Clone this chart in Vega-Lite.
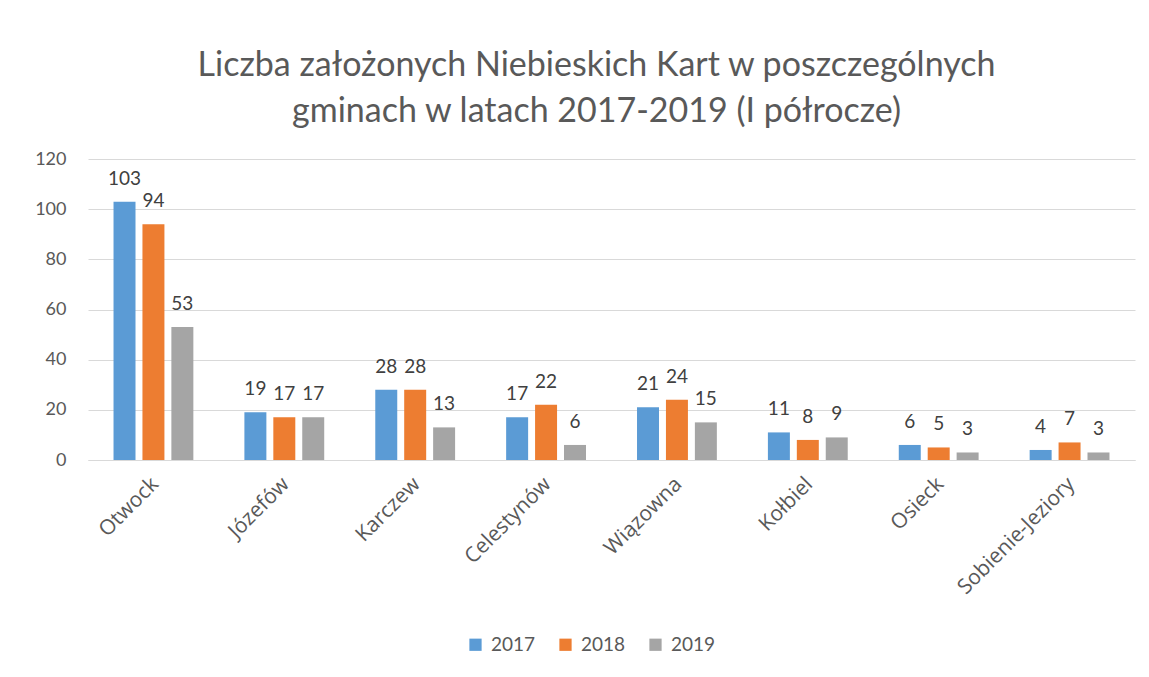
{
  "$schema": "https://vega.github.io/schema/vega-lite/v6.json",
  "autosize": {"type": "none"},
  "width": 1047,
  "height": 301,
  "padding": {"left": 88, "top": 159, "right": 14, "bottom": 217},
  "background": "white",
  "title": {
    "text": ["Liczba założonych Niebieskich Kart w poszczególnych", "gminach w latach 2017-2019 (I półrocze)"],
    "font": "Lato",
    "fontSize": 34,
    "fontWeight": "normal",
    "color": "#595959",
    "lineHeight": 46,
    "anchor": "middle",
    "dx": -15,
    "offset": 21
  },
  "data": {
    "values": [
      {"gmina": "Otwock", "rok": "2017", "liczba": 103},
      {"gmina": "Otwock", "rok": "2018", "liczba": 94},
      {"gmina": "Otwock", "rok": "2019", "liczba": 53},
      {"gmina": "Józefów", "rok": "2017", "liczba": 19},
      {"gmina": "Józefów", "rok": "2018", "liczba": 17},
      {"gmina": "Józefów", "rok": "2019", "liczba": 17},
      {"gmina": "Karczew", "rok": "2017", "liczba": 28},
      {"gmina": "Karczew", "rok": "2018", "liczba": 28},
      {"gmina": "Karczew", "rok": "2019", "liczba": 13},
      {"gmina": "Celestynów", "rok": "2017", "liczba": 17},
      {"gmina": "Celestynów", "rok": "2018", "liczba": 22},
      {"gmina": "Celestynów", "rok": "2019", "liczba": 6},
      {"gmina": "Wiązowna", "rok": "2017", "liczba": 21},
      {"gmina": "Wiązowna", "rok": "2018", "liczba": 24},
      {"gmina": "Wiązowna", "rok": "2019", "liczba": 15},
      {"gmina": "Kołbiel", "rok": "2017", "liczba": 11},
      {"gmina": "Kołbiel", "rok": "2018", "liczba": 8},
      {"gmina": "Kołbiel", "rok": "2019", "liczba": 9},
      {"gmina": "Osieck", "rok": "2017", "liczba": 6},
      {"gmina": "Osieck", "rok": "2018", "liczba": 5},
      {"gmina": "Osieck", "rok": "2019", "liczba": 3},
      {"gmina": "Sobienie-Jeziory", "rok": "2017", "liczba": 4},
      {"gmina": "Sobienie-Jeziory", "rok": "2018", "liczba": 7},
      {"gmina": "Sobienie-Jeziory", "rok": "2019", "liczba": 3}
    ]
  },
  "encoding": {
    "x": {
      "field": "gmina",
      "type": "nominal",
      "sort": null,
      "scale": {"paddingInner": 0.39, "paddingOuter": 0.195},
      "axis": {
        "title": null,
        "labelAngle": -45,
        "labelFont": "Open Sans",
        "labelFontSize": 21,
        "labelColor": "#595959",
        "ticks": false,
        "domainColor": "#D9D9D9",
        "domainWidth": 1,
        "labelPadding": 13,
        "labelOffset": -6
      }
    },
    "xOffset": {
      "field": "rok",
      "type": "nominal",
      "scale": {"paddingInner": 0.24, "paddingOuter": 0}
    },
    "y": {
      "field": "liczba",
      "type": "quantitative",
      "scale": {"domain": [0, 120], "nice": false},
      "axis": {
        "title": null,
        "values": [0, 20, 40, 60, 80, 100, 120],
        "labelFont": "Lato",
        "labelFontSize": 18,
        "labelColor": "#595959",
        "ticks": false,
        "domain": false,
        "labelPadding": 22,
        "gridColor": "#D9D9D9",
        "gridWidth": 1
      }
    }
  },
  "layer": [
    {
      "mark": {"type": "bar"},
      "encoding": {
        "color": {
          "field": "rok",
          "type": "nominal",
          "scale": {"domain": ["2017", "2018", "2019"], "range": ["#5B9BD5", "#ED7D31", "#A5A5A5"]},
          "legend": {
            "title": null,
            "orient": "none",
            "direction": "horizontal",
            "legendX": 378,
            "legendY": 476,
            "symbolType": "square",
            "symbolSize": 150,
            "symbolStrokeWidth": 0,
            "labelFont": "Lato",
            "labelFontSize": 19,
            "labelColor": "#595959",
            "columnPadding": 20,
            "labelOffset": 6
          }
        }
      }
    },
    {
      "mark": {"type": "text", "baseline": "bottom", "dy": -13, "font": "Lato", "fontSize": 19, "color": "#404040"},
      "encoding": {
        "text": {"field": "liczba", "type": "quantitative"}
      }
    }
  ],
  "config": {
    "view": {"stroke": null}
  }
}
